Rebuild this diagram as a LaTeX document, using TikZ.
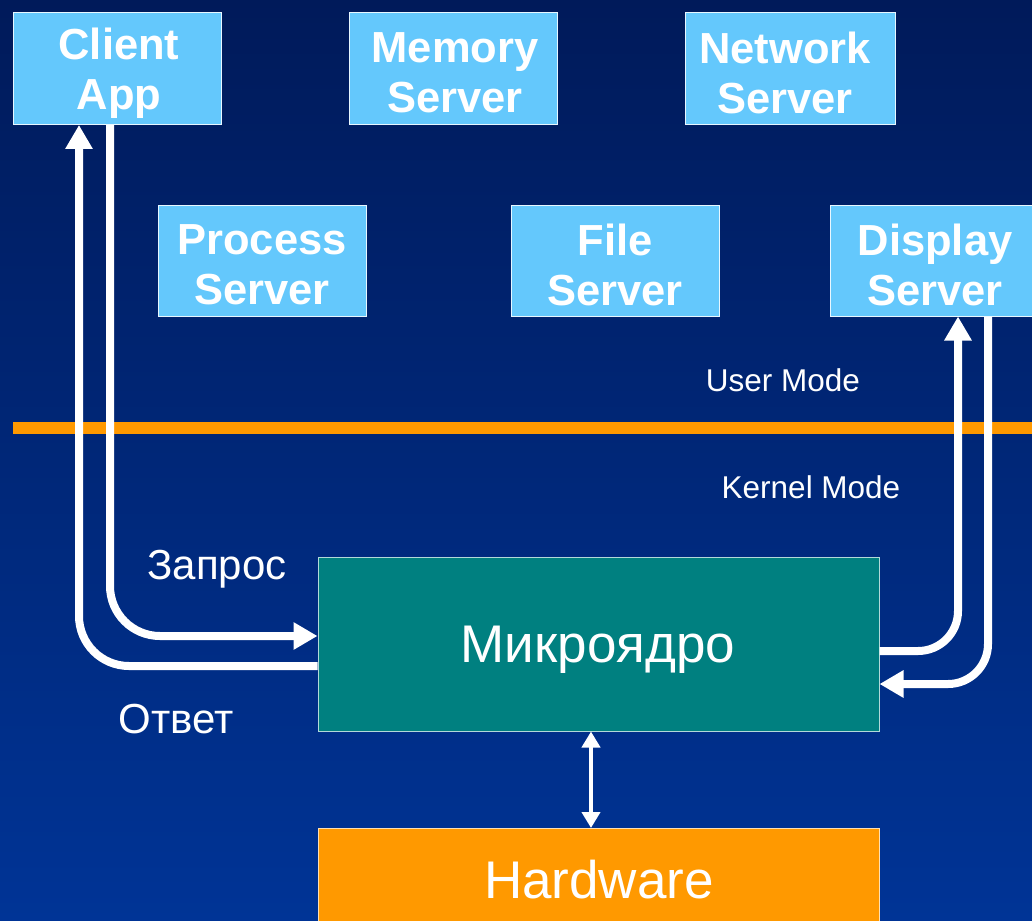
\documentclass[tikz,border=0pt]{standalone}
\usepackage{fontspec}
\setmainfont{Liberation Sans}
\usetikzlibrary{arrows.meta}
\definecolor{bgtop}{RGB}{0,26,90}
\definecolor{bgbot}{RGB}{0,52,150}
\definecolor{srv}{RGB}{100,200,252}
\definecolor{teal}{RGB}{0,128,128}
\definecolor{orng}{RGB}{255,153,0}
\begin{document}
\begin{tikzpicture}[x=1pt,y=-1pt,
  srvbox/.style={draw=white!85!srv, line width=1pt, fill=srv, minimum width=208, minimum height=112, inner sep=0pt},
  srvtext/.style={text=white, align=center, font=\bfseries\fontsize{43.5}{50}\selectfont, inner sep=0pt},
  bigbox/.style={draw=white!70!#1, line width=1pt, fill=#1, minimum width=561, inner sep=0pt},
  bigtext/.style={text=white, font=\fontsize{53}{60}\selectfont, inner sep=0pt},
  warrow/.style={draw=white, line width=8pt, rounded corners=50pt, -{Triangle[width=26pt,length=24pt]}},
  lbl/.style={text=white, font=\fontsize{42}{46}\selectfont, inner sep=0pt},
  mlbl/.style={text=white, font=\fontsize{31.5}{34}\selectfont, inner sep=0pt}]
\useasboundingbox (0,0) rectangle (1032,920);
\clip (0,0) rectangle (1032,920);
\shade[top color=bgtop, bottom color=bgbot] (0,0) rectangle (1032,920);

\node[srvbox] (client) at (117,68.5) {};
\node[srvbox] (memory) at (453,68.5) {};
\node[srvbox, minimum width=210] (network) at (790,68.5) {};
\node[srvbox, minimum height=111] (process) at (262,260.5) {};
\node[srvbox, minimum height=111] (file) at (615,260.5) {};
\node[srvbox, minimum width=212, minimum height=111] (display) at (936,260.5) {};
\node[srvtext] (clientt) at (119,73) {Client\\App};
\node[srvtext] (memoryt) at (455,73) {Memory\\Server};
\node[srvtext] (networkt) at (785,73) {Network\\Server};
\node[srvtext] (processt) at (262,265) {Process\\Server};
\node[srvtext] (filet) at (615,265) {File\\Server};
\node[srvtext] (displayt) at (935,265) {Display\\Server};

\fill[orng] (13,422) rectangle (1032,434);
\node[mlbl] (um) at (783,380) {User Mode};
\node[mlbl] (km) at (811,487) {Kernel Mode};

\node[bigbox=teal, minimum height=174] (micro) at (598.5,644) {};
\node[bigtext] (microt) at (598,650) {Микроядро};
\node[bigbox=orng, minimum height=120, anchor=north] (hw) at (598.5,828) {};
\node[bigtext] (hwt) at (599,880) {Hardware};

\node[lbl] (zap) at (217,569) {Запрос};
\node[lbl] (otv) at (176,719) {Ответ};

\draw[warrow] (micro.west |- 0,666) -| (client.south -| 79,0);
\draw[warrow] (client.south -| 110,0) |- (micro.west |- 0,636);
\draw[warrow, rounded corners=40pt] (micro.east |- 0,651) -| (display.south -| 958,0);
\draw[warrow, rounded corners=40pt] (display.south -| 988,0) |- (micro.east |- 0,684);

\draw[white, line width=4pt, {Triangle[width=18pt,length=16pt]}-{Triangle[width=18pt,length=16pt]}]
  (micro.south -| 591,0) -- (hw.north -| 591,0);
\end{tikzpicture}
\end{document}
